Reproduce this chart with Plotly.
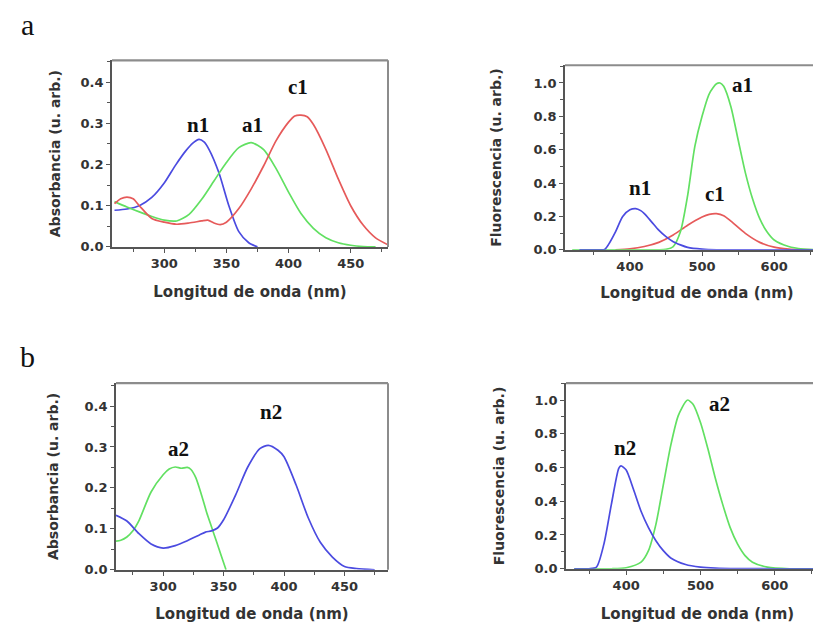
import plotly.graph_objects as go

W, H = 821, 626

# ---------- data: panel a, absorbance ----------
a_abs_n1_x = [260, 270, 280, 290, 300, 309, 317, 323, 328, 332, 336, 344, 352, 360, 368, 375]
a_abs_n1_y = [0.089, 0.092, 0.10, 0.12, 0.155, 0.198, 0.232, 0.252, 0.261, 0.255, 0.237, 0.18, 0.10, 0.037, 0.01, 0.0]

a_abs_a1_x = [260, 270, 280, 290, 300, 310, 320, 330, 340, 350, 360, 370, 380, 390, 400, 410, 420, 430, 440, 450, 460, 470]
a_abs_a1_y = [0.11, 0.097, 0.085, 0.074, 0.065, 0.063, 0.079, 0.115, 0.16, 0.205, 0.241, 0.253, 0.236, 0.19, 0.133, 0.081, 0.045, 0.022, 0.01, 0.004, 0.001, 0.0]

a_abs_c1_x = [260, 265, 270, 275, 280, 290, 300, 310, 320, 330, 335, 340, 345, 350, 360, 370, 380, 390, 400, 405, 410, 415, 420, 430, 440, 450, 460, 470, 480]
a_abs_c1_y = [0.105, 0.117, 0.121, 0.117, 0.10, 0.069, 0.06, 0.055, 0.058, 0.063, 0.065, 0.058, 0.054, 0.06, 0.093, 0.141, 0.197, 0.258, 0.303, 0.318, 0.32, 0.316, 0.297, 0.237, 0.165, 0.10, 0.053, 0.022, 0.005]

# ---------- data: panel a, fluorescence ----------
a_fl_n1_x = [330, 350, 360, 365, 370, 380, 390, 400, 408, 415, 420, 430, 440, 450, 460, 470, 480, 500, 520, 560, 620, 680]
a_fl_n1_y = [0, 0, 0, 0.003, 0.03, 0.108, 0.2, 0.24, 0.247, 0.235, 0.217, 0.168, 0.118, 0.079, 0.049, 0.03, 0.015, 0.004, 0, 0, 0, 0]

a_fl_a1_x = [320, 360, 400, 440, 450, 460, 470, 480, 490, 500, 510, 520, 525, 530, 540, 550, 560, 570, 580, 590, 600, 620, 640, 660, 680]
a_fl_a1_y = [0, 0, 0, 0, 0.003, 0.02, 0.108, 0.325, 0.62, 0.8, 0.935, 0.995, 1.0, 0.98, 0.858, 0.66, 0.463, 0.306, 0.187, 0.108, 0.059, 0.02, 0.005, 0, 0]

a_fl_c1_x = [380, 400, 420, 440, 460, 480, 500, 510, 520, 530, 540, 560, 580, 600, 620, 640, 660, 680]
a_fl_c1_y = [0, 0.006, 0.02, 0.045, 0.089, 0.148, 0.197, 0.213, 0.217, 0.205, 0.172, 0.099, 0.045, 0.016, 0.005, 0.001, 0, 0]

# ---------- data: panel b, absorbance ----------
b_abs_n2_x = [261, 270, 280, 290, 300, 310, 320, 330, 335, 340, 345, 350, 360, 370, 380, 387, 395, 400, 410, 420, 430, 440, 450, 460, 475]
b_abs_n2_y = [0.133, 0.119, 0.088, 0.063, 0.053, 0.059, 0.071, 0.085, 0.092, 0.095, 0.102, 0.122, 0.183, 0.251, 0.296, 0.304, 0.292, 0.276, 0.207, 0.127, 0.067, 0.031, 0.008, 0.003, 0.0]

b_abs_a2_x = [261, 265, 270, 275, 280, 290, 300, 305, 310, 315, 320, 323, 327, 332, 336, 340, 344, 348, 352]
b_abs_a2_y = [0.07, 0.072, 0.08, 0.095, 0.12, 0.19, 0.232, 0.246, 0.251, 0.248, 0.25, 0.245, 0.225, 0.18, 0.14, 0.105, 0.07, 0.035, 0.0]

# ---------- data: panel b, fluorescence ----------
b_fl_n2_x = [330, 350, 360, 370, 380, 390, 393, 400, 410, 420, 430, 440, 450, 460, 480, 500, 520, 550, 600, 680]
b_fl_n2_y = [0, 0, 0.01, 0.146, 0.38, 0.595, 0.61, 0.585, 0.468, 0.341, 0.244, 0.166, 0.107, 0.064, 0.025, 0.01, 0.004, 0.001, 0, 0]

b_fl_a2_x = [330, 380, 400, 420, 430, 440, 450, 460, 470, 480, 483, 490, 500, 510, 520, 530, 540, 550, 560, 570, 590, 620, 680]
b_fl_a2_y = [0, 0, 0.006, 0.039, 0.107, 0.263, 0.497, 0.731, 0.906, 0.99, 1.0, 0.975, 0.867, 0.711, 0.536, 0.38, 0.244, 0.146, 0.078, 0.039, 0.01, 0, 0]

BLUE = "#4b4be0"
GREEN = "#62e062"
RED = "#e65a5a"

fig = go.Figure()

def add(x, y, color, ax):
    fig.add_trace(go.Scatter(x=x, y=y, mode="lines", xaxis="x" + ax, yaxis="y" + ax,
                             line=dict(color=color, width=1.7, shape="spline", smoothing=0.7),
                             showlegend=False, hoverinfo="skip"))

add(a_abs_n1_x, a_abs_n1_y, BLUE, "")
add(a_abs_a1_x, a_abs_a1_y, GREEN, "")
add(a_abs_c1_x, a_abs_c1_y, RED, "")
add(a_fl_c1_x, a_fl_c1_y, RED, "2")
add(a_fl_a1_x, a_fl_a1_y, GREEN, "2")
add(a_fl_n1_x, a_fl_n1_y, BLUE, "2")
add(b_abs_a2_x, b_abs_a2_y, GREEN, "3")
add(b_abs_n2_x, b_abs_n2_y, BLUE, "3")
add(b_fl_a2_x, b_fl_a2_y, GREEN, "4")
add(b_fl_n2_x, b_fl_n2_y, BLUE, "4")

def px_dom(a, b):
    return [a / W, b / W]

def py_dom(top, bottom):
    return [1 - bottom / H, 1 - top / H]

TICKFONT = dict(family="DejaVu Sans", size=13, color="#333333", weight="bold")
XTITLEFONT = dict(family="DejaVu Sans", size=15, color="#333333", weight="bold")
YTITLEFONT = dict(family="DejaVu Sans", size=14, color="#333333", weight="bold")
AXCOL = "#555555"

def xax(domain, rng, dtick, mdtick, anchor, standoff):
    return dict(domain=domain, range=rng, anchor=anchor, showgrid=False, zeroline=False,
                showline=True, linecolor=AXCOL, linewidth=1.6, ticks="outside", ticklen=4,
                tickwidth=1.2, tickcolor=AXCOL, dtick=dtick, tick0=0, tickfont=TICKFONT,
                minor=dict(dtick=mdtick, ticks="outside", ticklen=3, tickcolor=AXCOL, showgrid=False),
                title=dict(text="Longitud de onda (nm)", font=XTITLEFONT, standoff=standoff),
                layer="below traces", fixedrange=True)

def yax(domain, rng, dtick, mdtick, anchor, title, standoff):
    return dict(domain=domain, range=rng, anchor=anchor, showgrid=False, zeroline=False,
                showline=True, linecolor=AXCOL, linewidth=1.6, ticks="outside", ticklen=4,
                tickwidth=1.2, tickcolor=AXCOL, dtick=dtick, tick0=0, tickformat=".1f", tickfont=TICKFONT,
                minor=dict(dtick=mdtick, ticks="outside", ticklen=3, tickcolor=AXCOL, showgrid=False),
                title=dict(text=title, font=YTITLEFONT, standoff=standoff),
                layer="below traces", fixedrange=True)

fig.update_layout(
    width=W, height=H, margin=dict(l=0, r=0, t=0, b=0),
    paper_bgcolor="white", plot_bgcolor="white",
    font=dict(family="DejaVu Sans"),
    xaxis=xax(px_dom(104, 380), [258, 480], 50, 25, "y", 16),
    yaxis=yax(py_dom(53, 242), [0, 0.453], 0.1, 0.05, "x", "Absorbancia (u. arb.)", 17),
    xaxis2=xax(px_dom(557, 821), [310, 676], 100, 50, "y2", 14),
    yaxis2=yax(py_dom(58, 245), [0, 1.106], 0.2, 0.1, "x2", "Fluorescencia (u. arb.)", 29),
    xaxis3=xax(px_dom(108, 380), [261, 486], 50, 25, "y3", 15),
    yaxis3=yax(py_dom(380, 569), [0, 0.456], 0.1, 0.05, "x3", "Absorbancia (u. arb.)", 23),
    xaxis4=xax(px_dom(558, 821), [319, 673], 100, 50, "y4", 16),
    yaxis4=yax(py_dom(380, 568), [0, 1.10], 0.2, 0.1, "x4", "Fluorescencia (u. arb.)", 27),
)

# frame (top / right borders in lighter gray)
BORDER = "#8c8c8c"
shapes = []
for ax, right in (("", True), ("2", False), ("3", True), ("4", False)):
    xr = "x" + ax + " domain"
    yr = "y" + ax + " domain"
    shapes.append(dict(type="line", xref=xr, yref=yr, x0=0, x1=1, y0=1, y1=1,
                       line=dict(color=BORDER, width=2.2)))
    if right:
        shapes.append(dict(type="line", xref=xr, yref=yr, x0=1, x1=1, y0=0, y1=1,
                           line=dict(color=BORDER, width=2)))
fig.update_layout(shapes=shapes)

# curve labels
LBLFONT = dict(family="Liberation Serif", size=21, color="#111111", weight="bold")
labels = [
    ("n1", 327, 0.297, ""), ("a1", 370.7, 0.297, ""), ("c1", 408, 0.388, ""),
    ("a1", 555.5, 0.988, "2"), ("n1", 414, 0.373, "2"), ("c1", 518, 0.337, "2"),
    ("a2", 312.4, 0.296, "3"), ("n2", 389, 0.386, "3"),
    ("n2", 398, 0.715, "4"), ("a2", 525, 0.978, "4"),
]
ann = []
for t, x, y, ax in labels:
    ann.append(dict(text=t, x=x, y=y, xref="x" + ax, yref="y" + ax,
                    showarrow=False, font=LBLFONT, xanchor="center", yanchor="middle"))
# panel letters
PFONT = dict(family="Liberation Serif", size=30, color="#111111")
ann.append(dict(text="a", x=19 / W, y=1 - 17 / H, xref="paper", yref="paper", showarrow=False,
                font=PFONT, xanchor="center", yanchor="middle"))
ann.append(dict(text="b", x=19 / W, y=1 - 353 / H, xref="paper", yref="paper", showarrow=False,
                font=PFONT, xanchor="center", yanchor="middle"))
fig.update_layout(annotations=ann)

fig.write_html("out.html", config=dict(displayModeBar=False))
